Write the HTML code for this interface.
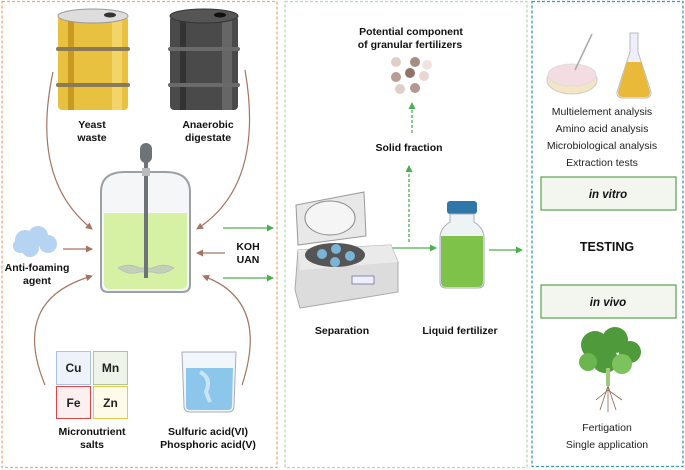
<!DOCTYPE html>
<html><head><style>body{margin:0;background:#fff}svg{display:block;font-family:"Liberation Sans",sans-serif}</style></head><body>
<svg width="685" height="470" viewBox="0 0 685 470" xmlns="http://www.w3.org/2000/svg">
<defs>
<marker id="br" markerWidth="8" markerHeight="8" refX="6" refY="4" orient="auto" markerUnits="userSpaceOnUse"><path d="M0,0.5 L7,4 L0,7.5z" fill="#a47561"/></marker>
<marker id="gr" markerWidth="8" markerHeight="8" refX="6" refY="4" orient="auto" markerUnits="userSpaceOnUse"><path d="M0,0.5 L7,4 L0,7.5z" fill="#4caf50"/></marker>
</defs>
<rect x="2" y="1.5" width="275" height="466" fill="none" stroke="#f4a97a" stroke-width="1.3" stroke-dasharray="3,2"/>
<rect x="285" y="1.5" width="242" height="466" fill="none" stroke="#b9d8b5" stroke-width="1.3" stroke-dasharray="3,2"/>
<rect x="532" y="1.5" width="151" height="465" fill="none" stroke="#3a9bb0" stroke-width="1.3" stroke-dasharray="3,2"/>
<g>
<rect x="58" y="16" width="70" height="94" rx="4" fill="#e8c141"/>
<rect x="68" y="16" width="6" height="94" fill="#c89a22"/><rect x="112" y="16" width="10" height="94" fill="#f3d468"/>
<ellipse cx="93" cy="16" rx="35" ry="7" fill="#ddd" stroke="#999"/><ellipse cx="110" cy="15" rx="6" ry="2.5" fill="#333"/>
<rect x="56" y="47" width="74" height="4" rx="2" fill="#8a7a55"/><rect x="56" y="83" width="74" height="4" rx="2" fill="#8a7a55"/>
</g>
<g>
<rect x="170" y="16" width="68" height="94" rx="4" fill="#4a4a4a"/>
<rect x="180" y="16" width="6" height="94" fill="#333"/><rect x="222" y="16" width="10" height="94" fill="#666"/>
<ellipse cx="204" cy="16" rx="34" ry="7" fill="#555" stroke="#333"/><ellipse cx="220" cy="15" rx="6" ry="2.5" fill="#111"/>
<rect x="168" y="47" width="72" height="4" rx="2" fill="#6a6a6a"/><rect x="168" y="83" width="72" height="4" rx="2" fill="#6a6a6a"/>
</g>
<g font-weight="bold" font-size="10.5" text-anchor="middle" fill="#111">
<text x="92" y="128">Yeast</text><text x="92" y="141">waste</text>
<text x="208" y="128">Anaerobic</text><text x="208" y="141">digestate</text>
<text x="37" y="271">Anti-foaming</text><text x="37" y="284">agent</text>
<text x="248" y="250">KOH</text><text x="248" y="263">UAN</text>
<text x="92" y="435">Micronutrient</text><text x="92" y="448">salts</text>
<text x="208" y="435">Sulfuric acid(VI)</text><text x="208" y="448">Phosphoric acid(V)</text>
</g>
<path d="M101,192 Q101,172 125,172 L165,172 Q190,172 190,192 L190,285 Q190,292 182,292 L108,292 Q101,292 101,285Z" fill="#f4f6f7" stroke="#9aa0a4" stroke-width="2"/>
<path d="M104,213 L187,213 L187,283 Q187,289 180,289 L110,289 Q104,289 104,283Z" fill="#d6f0a4"/>
<path d="M118,268 Q128,262 140,268 L152,268 Q164,262 174,268 Q164,276 152,272 L140,272 Q128,276 118,268Z" fill="#c3cfb8" stroke="#aab" stroke-width=".5"/>
<rect x="144" y="162" width="4" height="116" fill="#6d7378"/>
<rect x="140" y="143" width="12" height="20" rx="6" fill="#6d7378"/>
<rect x="142" y="168" width="8" height="8" fill="#bbb"/>
<g fill="none" stroke="#a47561" stroke-width="1.2" marker-end="url(#br)">
<path d="M53,72 Q30,180 92,229"/>
<path d="M245,70 Q265,185 197,229"/>
<path d="M63,249 L92,249"/>
<path d="M225,253 L197,253"/>
<path d="M45,385 Q10,300 92,276"/>
<path d="M242,385 Q270,300 203,276"/>
</g>
<g fill="#b7d3f2"><circle cx="25" cy="240" r="10"/><circle cx="38" cy="236" r="10"/><circle cx="48" cy="244" r="9"/><circle cx="30" cy="248" r="9"/><circle cx="20" cy="246" r="7"/></g>
<g font-weight="bold" font-size="12" text-anchor="middle" fill="#222">
<rect x="56.5" y="351.5" width="34" height="33" fill="#eef3fb" stroke="#a9c3ea"/><text x="73.5" y="372">Cu</text>
<rect x="93.5" y="351.5" width="34" height="33" fill="#eef4ea" stroke="#a8c89a"/><text x="110.5" y="372">Mn</text>
<rect x="56.5" y="386.5" width="34" height="32" fill="#fcefef" stroke="#d44"/><text x="73.5" y="407">Fe</text>
<rect x="93.5" y="386.5" width="34" height="32" fill="#fffbea" stroke="#e8c84a"/><text x="110.5" y="407">Zn</text>
</g>
<path d="M182,352 L236,352 L234,406 Q234,412 228,412 L190,412 Q184,412 184,406Z" fill="#f0f6fa" stroke="#aab" />
<path d="M186,368 L233,368 L232,406 Q232,410 228,410 L190,410 Q186,410 186,406Z" fill="#8cc6ea"/>
<path d="M200,372 Q212,378 206,392 L210,402" stroke="#c9e4f6" stroke-width="4" fill="none"/>
<g stroke="#4caf50" stroke-width="1.3" fill="none" marker-end="url(#gr)">
<path d="M223,228 L273,228"/><path d="M223,278 L273,278"/>
<path d="M389,248 L436,248"/><path d="M489,250 L522,250"/>
<path d="M409,242 L409,166" stroke-dasharray="3,2"/>
<path d="M412,133 L412,103" stroke-dasharray="3,2"/>
</g>
<g font-weight="bold" font-size="10.5" text-anchor="middle" fill="#111">
<text x="411" y="35">Potential component</text><text x="410" y="48">of granular fertilizers</text>
<text x="409" y="151">Solid fraction</text>
<text x="342" y="334">Separation</text>
<text x="460" y="334">Liquid fertilizer</text>
</g>
<g><circle cx="396" cy="62" r="5" fill="#e0cfc9"/><circle cx="415" cy="62" r="5" fill="#a98c84"/><circle cx="427" cy="65" r="5" fill="#f1e3e0"/><circle cx="396" cy="77" r="5" fill="#b99d95"/><circle cx="410" cy="73" r="5" fill="#93726a"/><circle cx="424" cy="76" r="5" fill="#e8d7d3"/><circle cx="400" cy="89" r="5" fill="#e0cfc9"/><circle cx="415" cy="88" r="5" fill="#b39890"/></g>
<path d="M298,250 L391,245 L398,262 L398,292 L300,308 L295,290Z" fill="#dcdcdc" stroke="#aaa"/>
<path d="M298,250 L391,245 L398,262 L300,270Z" fill="#eaeaea"/>
<ellipse cx="335" cy="255" rx="30" ry="12" fill="#555"/>
<circle cx="322" cy="254" r="5" fill="#7ab4d6"/><circle cx="336" cy="249" r="5" fill="#7ab4d6"/><circle cx="350" cy="256" r="5" fill="#7ab4d6"/><circle cx="335" cy="262" r="5" fill="#7ab4d6"/>
<path d="M298,245 L296,205 L364,192 L366,236Z" fill="#e8e8e8" stroke="#999"/>
<ellipse cx="330" cy="218" rx="25" ry="17" fill="#f5f5f5" stroke="#888"/>
<rect x="352" y="276" width="22" height="8" fill="#eef" stroke="#88a"/>
<rect x="447" y="201" width="30" height="13" rx="3" fill="#2f77a8"/>
<path d="M450,214 L474,214 L474,222 Q484,228 484,238 L484,282 Q484,288 478,288 L446,288 Q440,288 440,282 L440,238 Q440,228 450,222Z" fill="#eef3f4" stroke="#aab"/>
<path d="M441,236 L483,236 L483,282 Q483,287 478,287 L446,287 Q441,287 441,282Z" fill="#7ec24a"/>
<ellipse cx="572" cy="80" rx="25" ry="14" fill="#f4e5c4" stroke="#ccc"/>
<ellipse cx="572" cy="75" rx="24" ry="11" fill="#f4dde2" stroke="#ddd"/>
<path d="M575,70 L592,34" stroke="#aaa" stroke-width="1.5"/>
<path d="M630,33 L638,33 L638,52 L651,92 Q651,98 645,98 L623,98 Q617,98 617,92 L630,52Z" fill="#eef" stroke="#bbb"/>
<path d="M627,62 L641,62 L650,92 Q650,97 645,97 L623,97 Q618,97 618,92Z" fill="#e9b93a"/>
<g font-size="10.5" text-anchor="middle" fill="#222">
<text x="602" y="115">Multielement analysis</text>
<text x="602" y="132">Amino acid analysis</text>
<text x="602" y="149">Microbiological analysis</text>
<text x="602" y="166">Extraction tests</text>
<text x="607" y="431">Fertigation</text>
<text x="607" y="448">Single application</text>
</g>
<rect x="541" y="177" width="135" height="33" fill="#f2f6ee" stroke="#5aa050" stroke-width="1.2"/>
<rect x="541" y="285" width="135" height="33" fill="#f2f6ee" stroke="#5aa050" stroke-width="1.2"/>
<g font-weight="bold" text-anchor="middle" fill="#111">
<text x="608" y="198" font-size="11.5" font-style="italic">in vitro</text>
<text x="608" y="306" font-size="11.5" font-style="italic">in vivo</text>
<text x="607" y="251" font-size="12.5">TESTING</text>
</g>
<g fill="#4f9a3a"><circle cx="595" cy="345" r="14"/><circle cx="615" cy="340" r="13"/><circle cx="630" cy="352" r="11"/><circle cx="605" cy="360" r="13"/><circle cx="588" cy="362" r="9" fill="#6bb64e"/><circle cx="622" cy="364" r="10" fill="#7cc35d"/></g>
<rect x="606" y="368" width="4" height="18" fill="#9ccb7a"/>
<g stroke="#8a6a55" stroke-width=".8" fill="none"><path d="M608,386 L600,410"/><path d="M608,386 L616,410"/><path d="M608,386 L608,412"/><path d="M608,390 L596,400"/><path d="M608,390 L622,400"/></g>
</svg>
</body></html>
